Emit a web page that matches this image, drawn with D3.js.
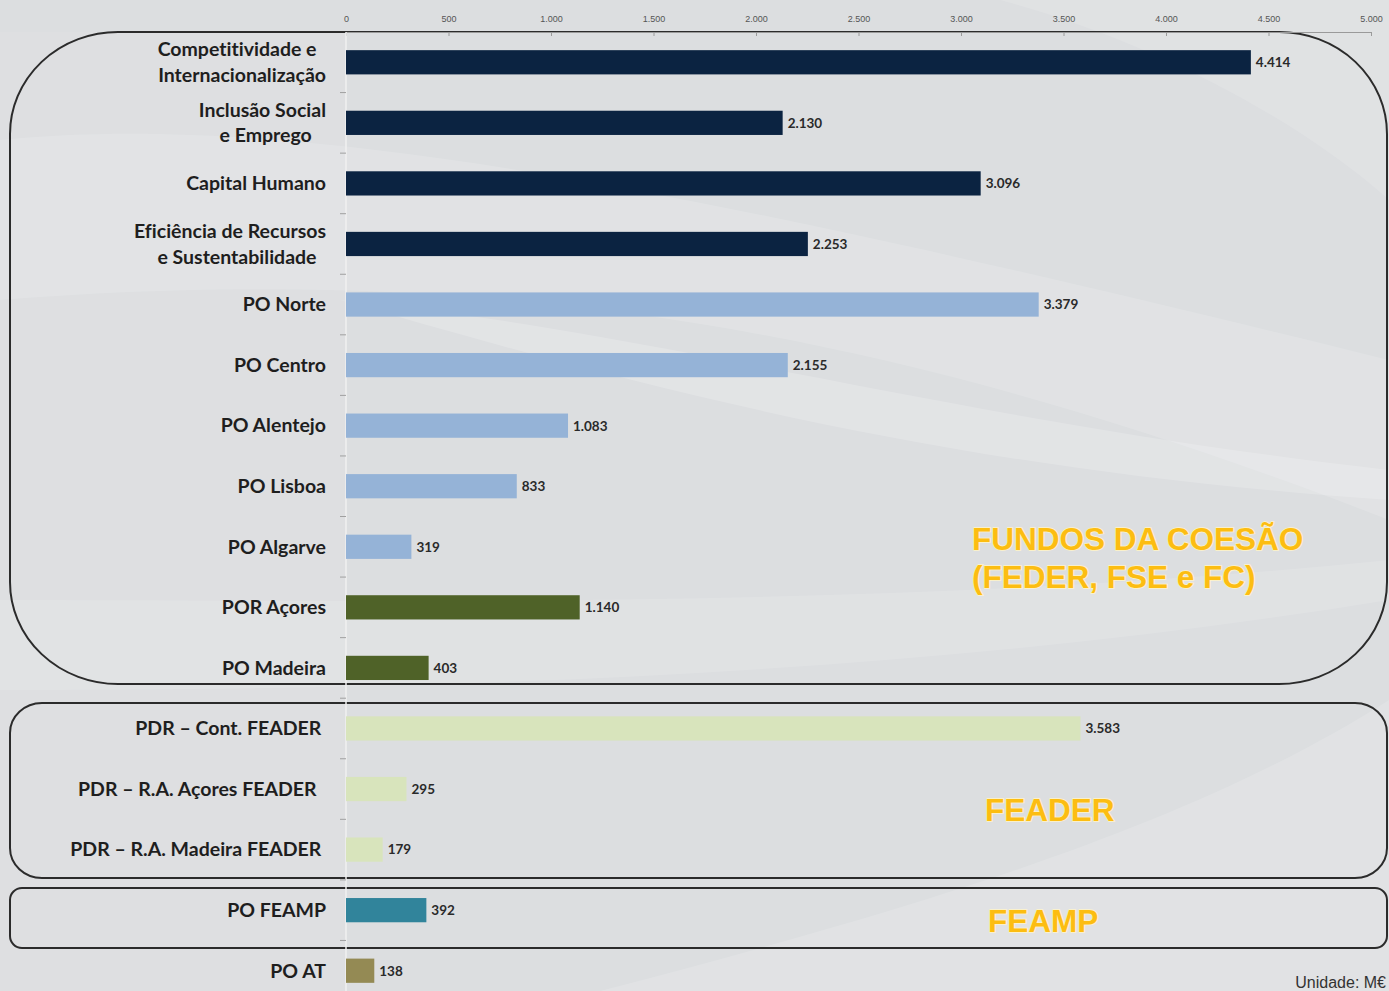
<!DOCTYPE html>
<html>
<head>
<meta charset="utf-8">
<script src="https://cdn.jsdelivr.net/npm/d3@7"></script>
<style>
  html, body { margin: 0; padding: 0; background: #e3e4e6; overflow: hidden; }
  svg { display: block; }
  text { font-variant-ligatures: none; white-space: pre; }
</style>
</head>
<body>
<svg id="chart" width="1389" height="991"></svg>
<script>
// ---------- data ----------
const categories = [
  "Competitividade e  \nInternacionalização",
  "Inclusão Social\ne Emprego   ",
  "Capital Humano",
  "Eficiência de Recursos\ne Sustentabilidade  ",
  "PO Norte",
  "PO Centro",
  "PO Alentejo",
  "PO Lisboa",
  "PO Algarve",
  "POR Açores",
  "PO Madeira",
  "PDR – Cont. FEADER ",
  "PDR – R.A. Açores FEADER  ",
  "PDR – R.A. Madeira FEADER ",
  "PO FEAMP",
  "PO AT"
];
const values = [4414, 2130, 3096, 2253, 3379, 2155, 1083, 833, 319, 1140, 403, 3583, 295, 179, 392, 138];
const groups = ["tematico","tematico","tematico","tematico",
                "regional","regional","regional","regional","regional",
                "autonomo","autonomo",
                "feader","feader","feader",
                "feamp","at"];
const xTicks = [0, 500, 1000, 1500, 2000, 2500, 3000, 3500, 4000, 4500, 5000];
const fundLabels = [
  {lines: ["FUNDOS DA COESÃO", "(FEDER, FSE e FC)"]},
  {lines: ["FEADER"]},
  {lines: ["FEAMP"]}
];
const unitLabel = "Unidade: M€";

// ---------- styles ----------
const colorOf = {
  tematico: "#0b2341",
  regional: "#95b3d7",
  autonomo: "#4f6228",
  feader:   "#d8e4bc",
  feamp:    "#31849b",
  at:       "#948a54"
};

const W = 1389, H = 991;
const svg = d3.select("#chart");
const locale = d3.formatLocale({decimal: ",", thousands: ".", grouping: [3], currency: ["", " €"]});
const fmt = locale.format(",d");

// ---------- background swooshes ----------
const bg = svg.append("g");
bg.append("rect").attr("width", W).attr("height", H).attr("fill", "#dcdee0");
bg.append("path")
  .attr("d", "M 0 140 C 300 110, 700 190, 1389 360 L 1389 520 C 900 330, 500 260, 0 300 Z")
  .attr("fill", "#ffffff").attr("opacity", 0.14);
bg.append("path")
  .attr("d", "M 340 300 C 650 330, 950 420, 1389 470 L 1389 500 C 950 470, 650 390, 340 300 Z")
  .attr("fill", "#ffffff").attr("opacity", 0.18);
bg.append("path")
  .attr("d", "M 0 600 C 400 600, 900 610, 1389 560 L 1389 600 C 900 680, 400 690, 0 690 Z")
  .attr("fill", "#ffffff").attr("opacity", 0.12);
bg.append("path")
  .attr("d", "M 600 991 C 950 900, 1200 820, 1389 700 L 1389 991 Z")
  .attr("fill", "#ffffff").attr("opacity", 0.14);
bg.append("path")
  .attr("d", "M 1000 0 C 1150 40, 1300 120, 1389 200 L 1389 0 Z")
  .attr("fill", "#ffffff").attr("opacity", 0.12);
bg.append("rect").attr("x", 0).attr("y", 32).attr("width", 346).attr("height", H)
  .attr("fill", "#ffffff").attr("opacity", 0.06);

// ---------- scales ----------
const x = d3.scaleLinear().domain([0, 5000]).range([346, 1371]);
const y = d3.scaleBand().domain(d3.range(categories.length)).range([32, 1001]).paddingInner(0.6).paddingOuter(0.3);

// ---------- group boxes ----------
const boxes = svg.append("g").attr("fill", "none").attr("stroke", "#2b2b2b").attr("stroke-width", 2);
function roundRect(x0, y0, x1, y1, rx, ry) {
  return `M ${x0 + rx} ${y0} L ${x1 - rx} ${y0} A ${rx} ${ry} 0 0 1 ${x1} ${y0 + ry} L ${x1} ${y1 - ry} A ${rx} ${ry} 0 0 1 ${x1 - rx} ${y1} L ${x0 + rx} ${y1} A ${rx} ${ry} 0 0 1 ${x0} ${y1 - ry} L ${x0} ${y0 + ry} A ${rx} ${ry} 0 0 1 ${x0 + rx} ${y0} Z`;
}
boxes.append("path").attr("d", roundRect(10, 32, 1387, 684, 108, 102));
boxes.append("path").attr("d", roundRect(10, 703, 1387, 878, 32, 30));
boxes.append("path").attr("d", roundRect(10, 888, 1387, 948, 12, 12));

// ---------- axes ----------
const xAxis = svg.append("g").attr("transform", "translate(0,32)")
  .call(d3.axisTop(x).tickValues(xTicks).tickFormat(fmt).tickSize(-4).tickPadding(10));
xAxis.select(".domain").attr("stroke", "#9a9a9a").attr("stroke-width", 1);
xAxis.selectAll(".tick line").attr("stroke", "#9a9a9a");
xAxis.selectAll(".tick text")
  .attr("fill", "#555")
  .style("font-family", "'Liberation Sans Narrow', 'Liberation Sans', sans-serif")
  .style("font-size", "9px");

// y axis line
svg.append("line")
  .attr("x1", x(0)).attr("x2", x(0)).attr("y1", 32).attr("y2", H)
  .attr("stroke", "#f0f0f0").attr("stroke-width", 1.5);
// category separator ticks
const step = y.step();
svg.append("g").selectAll("line")
  .data(d3.range(1, categories.length))
  .join("line")
  .attr("x1", x(0) - 6).attr("x2", x(0))
  .attr("y1", i => y(i) - (step - y.bandwidth()) / 2)
  .attr("y2", i => y(i) - (step - y.bandwidth()) / 2)
  .attr("stroke", "#a0a0a0");

// ---------- bars ----------
svg.append("g").selectAll("rect")
  .data(values)
  .join("rect")
  .attr("x", x(0))
  .attr("y", (d, i) => y(i))
  .attr("width", d => x(d) - x(0))
  .attr("height", y.bandwidth())
  .attr("fill", (d, i) => colorOf[groups[i]]);

// value labels
svg.append("g").selectAll("text")
  .data(values)
  .join("text")
  .attr("x", d => x(d) + 5)
  .attr("y", (d, i) => y(i) + y.bandwidth() / 2)
  .attr("dy", "0.36em")
  .attr("fill", "#2a2a2a")
  .style("font-family", "Lato, 'Open Sans', sans-serif")
  .style("font-weight", 700)
  .style("font-size", "13.5px")
  .text(d => fmt(d));

// category labels
const catG = svg.append("g")
  .style("font-family", "Lato, 'Open Sans', sans-serif")
  .style("font-weight", 700)
  .style("font-size", "19.5px")
  .attr("fill", "#1e1e1e")
  .attr("text-anchor", "end");
categories.forEach((c, i) => {
  const lines = c.split("\n");
  const cy = y(i) + y.bandwidth() / 2;
  const t = catG.append("text").attr("x", 326).attr("y", cy).attr("xml:space", "preserve");
  lines.forEach((ln, k) => {
    t.append("tspan")
      .attr("x", 326)
      .attr("y", cy + (k - (lines.length - 1) / 2) * 25.5)
      .attr("dy", "0.35em")
      .text(ln);
  });
});

// ---------- fund labels ----------
const fundG = svg.append("g")
  .style("font-family", "'Liberation Sans', Arial, sans-serif")
  .style("font-weight", 700)
  .style("font-size", "31.5px")
  .attr("fill", "#fcbd12")
  .attr("stroke", "#fff4c8")
  .attr("stroke-width", 1.5)
  .style("paint-order", "stroke");
const fundPos = [
  {x: 972, ys: [539, 577]},
  {x: 985, ys: [810]},
  {x: 988, ys: [921]}
];
fundLabels.forEach((f, j) => {
  f.lines.forEach((ln, k) => {
    fundG.append("text")
      .attr("x", fundPos[j].x)
      .attr("y", fundPos[j].ys[k])
      .attr("dy", "0.35em")
      .text(ln);
  });
});

// unit label
svg.append("text")
  .attr("x", 1386).attr("y", 988)
  .attr("text-anchor", "end")
  .attr("fill", "#333")
  .style("font-family", "'Liberation Sans', Arial, sans-serif")
  .style("font-size", "16px")
  .text(unitLabel);
</script>
</body>
</html>
